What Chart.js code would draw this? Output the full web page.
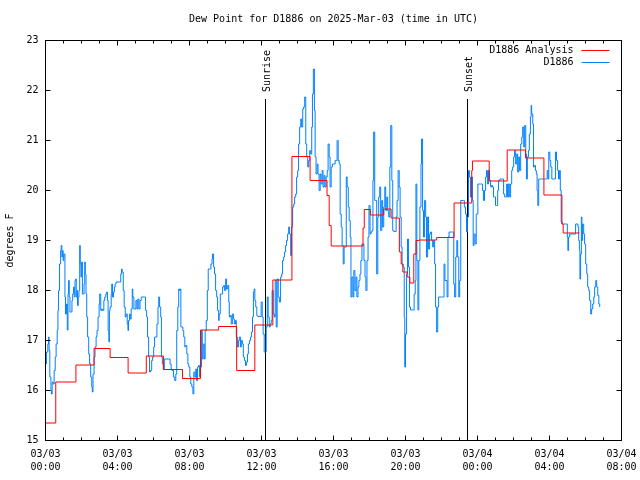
<!DOCTYPE html>
<html>
<head>
<meta charset="utf-8">
<title>Dew Point for D1886</title>
<script src="https://cdn.jsdelivr.net/npm/chart.js@4.4.1/dist/chart.umd.min.js"></script>
<style>
  html, body { margin: 0; padding: 0; background: #fff; }
  canvas { display: block; }
</style>
</head>
<body>
<canvas id="dewChart" width="640" height="480"></canvas>
<script>
//////////////////// Dew point, hours since 03/03 00:00 UTC ////////////////////

///////// D1886 station readings /////////
const stationHours = [
  0.00,0.05,0.13,0.17,0.20,0.24,0.30,0.33,0.37,0.43,
  0.48,0.54,0.59,0.65,0.69,0.72,0.78,0.84,0.87,0.91,
  0.95,0.98,1.02,1.08,1.11,1.17,1.21,1.25,1.28,1.32,
  1.36,1.41,1.47,1.51,1.56,1.60,1.64,1.67,1.71,1.75,
  1.78,1.82,1.86,1.90,1.93,1.97,2.01,2.05,2.10,2.14,
  2.18,2.21,2.25,2.29,2.34,2.40,2.45,2.51,2.57,2.60,
  2.64,2.70,2.75,2.81,2.86,2.92,2.98,3.01,3.07,3.12,
  3.18,3.24,3.29,3.35,3.40,3.44,3.48,3.52,3.55,3.59,
  3.65,3.68,3.72,3.78,3.83,3.87,3.92,4.09,4.18,4.22,
  4.26,4.32,4.37,4.43,4.48,4.54,4.58,4.61,4.67,4.71,
  4.76,4.82,4.85,4.91,4.97,5.02,5.08,5.13,5.19,5.25,
  5.32,5.43,5.51,5.56,5.62,5.67,5.73,5.78,5.84,5.90,
  5.95,6.01,6.06,6.14,6.19,6.25,6.29,6.34,6.40,6.44,
  6.49,6.55,6.60,6.85,
  6.92,6.98,7.03,7.11,7.18,7.24,7.29,7.35,7.40,7.44,
  7.48,7.52,7.57,7.63,7.68,7.74,7.79,7.85,7.91,7.96,
  8.02,8.07,8.13,8.19,8.24,8.30,8.35,8.39,8.45,8.50,
  8.56,8.61,8.67,8.71,8.76,8.82,8.87,8.93,8.99,9.04,
  9.12,9.19,9.25,9.28,9.34,9.39,9.45,9.51,9.56,9.62,
  9.65,9.71,9.78,9.84,9.90,9.95,10.01,10.06,10.12,10.18,
  10.21,10.27,10.32,10.38,10.44,10.49,10.55,10.60,10.66,10.72,
  10.77,10.83,10.88,10.94,10.99,11.05,11.11,11.16,11.22,11.27,
  11.33,11.39,11.44,11.50,11.55,11.59,11.63,11.68,11.74,11.79,
  11.87,11.92,11.98,12.04,12.09,12.15,12.20,12.26,12.32,12.37,
  12.43,12.48,12.54,12.59,12.65,12.71,12.76,12.82,12.87,12.93,
  12.99,
  13.06,13.12,13.17,13.23,13.28,13.34,13.39,13.45,13.51,13.56,
  13.62,13.67,13.73,13.79,13.84,13.90,13.95,14.01,14.06,14.12,
  14.18,14.23,14.29,14.34,14.40,14.46,14.51,14.57,14.62,14.68,
  14.73,14.79,14.83,14.88,14.94,14.98,15.03,15.09,15.14,15.20,
  15.26,15.31,15.37,15.42,15.48,15.53,15.59,15.65,15.70,15.76,
  15.81,15.87,15.94,16.02,16.09,16.15,16.20,16.26,16.32,16.37,
  16.43,16.48,16.54,16.59,16.65,16.71,16.76,16.82,16.87,
  16.93,16.97,17.02,17.08,17.13,17.19,17.25,17.30,17.36,17.41,
  17.47,17.52,17.58,17.64,17.69,17.75,17.80,17.86,17.92,17.97,
  18.03,18.08,18.14,18.19,18.23,18.29,18.34,18.40,18.46,18.51,
  18.57,18.62,18.68,18.73,18.79,18.85,18.90,18.96,19.01,19.07,
  19.13,19.18,19.24,19.29,19.35,19.42,19.48,19.53,19.59,19.65,
  19.70,19.76,19.81,19.87,19.93,19.96,20.00,20.06,20.11,20.17,
  20.22,20.28,20.35,20.43,20.48,20.54,20.58,20.63,20.69,20.74,
  20.80,20.86,20.89,20.95,21.00,21.06,21.12,21.17,21.23,21.28,
  21.34,21.39,21.45,21.51,21.56,21.62,21.67,21.73,21.79,21.84,
  21.92,21.99,22.06,22.14,22.19,22.25,22.31,22.36,22.42,22.47,
  22.55,22.62,22.68,22.73,22.79,22.85,22.90,22.96,23.01,23.07,
  23.14,23.22,23.27,23.33,23.39,23.44,23.50,23.55,23.61,23.66,
  23.72,23.76,23.81,23.87,23.93,23.98,24.02,24.09,24.17,
  24.22,24.28,24.33,24.39,24.45,24.50,24.56,24.61,24.67,24.73,
  24.78,24.84,24.89,24.95,25.00,25.06,25.12,25.17,25.25,25.32,
  25.39,25.45,25.51,25.56,25.62,25.67,25.73,25.79,25.84,25.90,
  25.95,26.01,26.06,26.12,26.18,26.23,26.29,26.34,26.40,26.46,
  26.51,26.57,26.62,26.68,26.72,26.77,26.83,26.88,26.94,26.98,
  27.01,27.07,27.11,27.16,27.22,27.27,27.31,27.35,27.40,27.48,
  27.55,27.63,27.70,27.78,27.83,27.87,27.92,27.96,28.02,28.07,
  28.13,28.20,28.28,28.33,28.39,28.45,28.50,28.56,28.60,28.65,
  28.71,28.78,28.86,28.93,28.99,29.02,29.06,29.12,29.19,29.27,
  29.34,29.41,29.45,29.53,29.58,29.62,29.66,29.69,29.73,29.77,
  29.80,29.84,29.90,29.95,30.01,30.07,30.12,30.18,30.23,30.29,
  30.34,30.40,30.46,30.51,30.57,30.62,30.68,30.74,30.79
];
const stationDew = [
  16.53,16.77,16.93,17.07,16.80,16.27,16.00,15.93,16.17,16.13,
  16.40,16.67,16.93,17.20,17.60,18.00,18.53,18.80,18.90,18.67,
  18.80,18.60,18.73,17.87,17.53,17.73,17.21,17.93,18.20,17.87,
  17.57,17.57,17.80,17.93,18.07,17.87,18.20,18.23,17.87,18.00,
  17.70,17.87,18.00,18.90,18.53,18.27,18.57,17.93,17.93,18.13,
  18.57,18.33,17.93,17.47,17.07,16.73,16.53,16.27,16.07,15.97,
  16.33,16.67,16.87,17.07,17.20,17.47,17.73,17.93,17.60,17.63,
  17.60,17.80,17.87,17.93,17.97,17.80,17.20,16.97,17.60,17.67,
  17.93,18.13,17.87,17.97,18.07,18.13,18.17,18.17,18.33,18.43,
  18.37,18.00,17.67,17.47,17.53,17.33,17.20,17.40,17.53,17.43,
  17.63,18.03,17.87,17.63,17.63,17.80,17.63,17.83,17.63,17.80,
  17.87,17.87,17.87,17.60,17.47,17.07,16.67,16.37,16.40,16.60,
  16.67,16.87,17.07,17.07,17.33,17.67,17.87,17.67,17.47,16.67,
  16.53,16.43,16.63,16.63,
  16.53,16.43,16.40,16.27,16.20,16.33,17.20,17.67,18.03,18.00,
  18.03,17.27,17.27,17.20,17.07,16.87,16.90,16.73,16.53,16.47,
  16.27,16.13,16.07,15.93,16.37,16.27,16.43,16.20,16.47,16.50,
  16.27,16.47,17.20,16.63,16.93,16.63,17.20,17.40,18.00,18.43,
  18.43,18.53,18.63,18.73,18.47,18.33,18.00,17.87,17.60,17.40,
  17.53,17.93,17.93,18.07,18.10,18.00,18.23,18.03,18.10,17.77,
  17.47,17.50,17.33,17.53,17.43,17.33,17.40,17.07,16.87,17.00,
  17.07,16.87,17.00,16.93,16.67,16.60,16.50,16.57,16.73,16.93,
  17.00,17.07,17.17,17.47,17.97,18.03,17.80,17.67,17.50,17.48,
  17.48,17.48,17.77,17.47,17.13,16.77,16.77,17.27,17.87,17.47,
  17.27,17.33,17.40,18.00,17.53,17.47,18.20,17.27,18.23,17.87,
  17.77,
  18.27,18.33,18.60,18.67,18.77,18.90,19.00,19.13,19.27,19.13,
  18.70,19.27,19.67,19.73,19.87,19.93,20.27,20.40,20.93,21.27,
  21.43,21.27,21.63,21.67,21.87,20.93,20.67,20.47,20.60,20.80,
  20.73,21.27,21.93,22.43,21.60,20.67,20.33,20.53,20.33,20.00,
  20.33,20.13,20.40,20.07,20.30,20.07,20.27,20.40,20.93,20.67,
  20.07,20.47,20.53,20.53,20.60,20.60,21.00,20.60,20.53,19.53,
  19.27,18.90,18.53,18.87,18.87,20.27,20.07,19.67,19.40,
  19.07,17.87,18.27,17.87,18.40,18.00,18.27,17.87,18.07,18.20,
  18.33,18.60,18.93,18.93,18.60,18.27,18.00,18.60,19.07,19.70,
  19.13,19.17,19.20,20.20,21.17,19.80,19.80,18.33,19.47,19.87,
  20.07,19.20,19.80,19.27,19.67,20.07,19.60,19.87,19.60,19.47,
  20.47,21.30,20.20,19.20,19.18,19.18,19.47,19.80,20.40,20.07,
  19.47,18.87,18.53,18.47,17.47,16.47,17.13,18.33,19.03,18.47,
  17.67,17.61,17.61,17.61,17.93,18.20,20.13,18.60,17.61,18.60,
  19.67,20.53,21.03,19.60,19.07,19.80,19.47,18.67,19.47,18.83,
  19.13,19.17,19.00,18.87,19.00,18.53,17.67,17.17,17.67,17.87,
  17.87,17.87,17.87,18.53,18.20,18.20,17.87,19.07,19.17,19.17,
  19.17,19.17,18.13,17.87,18.67,19.00,18.67,17.87,18.20,19.80,
  19.80,19.80,19.67,19.53,19.17,19.47,20.40,20.27,19.87,20.27,
  19.80,18.90,19.13,18.93,19.53,19.53,20.13,20.13,20.13,
  20.13,20.00,19.80,20.00,20.27,20.40,20.13,20.40,20.20,20.07,
  20.10,20.07,19.87,19.87,19.70,19.70,20.00,20.20,20.23,20.23,
  20.23,19.93,19.87,19.87,20.13,19.87,20.13,19.87,20.13,20.40,
  20.47,20.67,20.80,20.53,20.73,20.37,20.67,20.40,20.93,21.07,
  21.27,20.87,21.30,20.73,20.23,20.67,20.80,21.13,21.47,21.70,
  21.53,21.33,20.47,20.50,20.40,20.33,20.00,19.70,20.23,20.23,
  20.23,20.23,20.23,20.23,20.23,20.40,20.23,20.77,20.60,20.47,
  20.23,20.23,20.23,20.77,20.60,20.40,20.23,20.40,20.00,19.37,
  19.33,19.33,19.33,19.33,19.07,18.80,19.07,19.13,19.13,19.13,
  19.13,19.13,19.33,19.33,19.27,19.00,18.80,18.23,18.73,19.47,
  19.00,19.33,19.13,18.93,18.53,18.33,18.07,18.00,17.80,17.53,
  17.63,17.73,17.87,18.07,18.20,18.07,17.90,17.73,17.67
];

///////// Hourly analysis (value holds until the next change) /////////
const analysisHours = [
  0.00,0.57,1.69,2.70,3.59,4.59,5.60,6.55,7.61,8.61,
  9.62,10.62,11.63,12.63,13.69,14.70,15.64,15.76,15.87,17.64,
  17.71,18.05,18.79,19.20,19.66,19.76,19.85,20.09,20.24,20.46,
  20.59,20.74,21.73,22.70,23.68,23.72,24.65,25.65,26.67,27.69,
  28.69,28.76,29.67
];
const analysisDew = [
  15.35,16.17,16.51,16.84,16.66,16.35,16.69,16.42,16.24,17.21,
  17.28,16.40,17.31,18.21,20.68,20.20,19.90,19.30,18.89,19.25,
  19.62,19.51,19.63,19.45,18.77,18.53,18.37,18.27,18.15,18.73,
  19.00,19.01,19.06,19.75,20.40,20.59,20.19,20.81,20.65,19.91,
  19.33,19.15,19.15
];

///////// Sun events and tick labels /////////
const sunLabels = ['Sunrise', 'Sunset'];
const sunHours = [12.22, 23.44];
const xTickLabels = [
  ['03/03', '00:00'], ['03/03', '04:00'], ['03/03', '08:00'],
  ['03/03', '12:00'], ['03/03', '16:00'], ['03/03', '20:00'],
  ['03/04', '00:00'], ['03/04', '04:00'], ['03/04', '08:00']
];
const seriesNames = ['D1886 Analysis', 'D1886'];
const seriesColors = ['rgb(255, 0, 0)', 'rgb(0, 128, 255)'];

const MONO = 'DejaVu Sans Mono, Liberation Mono, monospace';
const FONT = '10px ' + MONO;

///////////// gnuplot style frame, ticks, labels and legend ////////////
const gnuplotLook = {
  id: 'gnuplotLook',
  beforeDatasetsDraw(chart) {
    const { ctx, chartArea: { bottom }, scales: { x } } = chart;
    ctx.save();
    ctx.strokeStyle = '#000';
    ctx.fillStyle = '#000';
    ctx.lineWidth = 1;
    ctx.font = FONT;
    sunHours.forEach((h, i) => {
      const px = Math.floor(x.getPixelForValue(h)) + 0.5;
      ctx.beginPath();
      ctx.moveTo(px, 99);
      ctx.lineTo(px, bottom);
      ctx.stroke();
      ctx.save();
      ctx.translate(px + 1.5, 92);
      ctx.rotate(-Math.PI / 2);
      ctx.textAlign = 'left';
      ctx.textBaseline = 'middle';
      ctx.fillText(sunLabels[i], 0, 0);
      ctx.restore();
    });
    ctx.restore();
  },
  afterDatasetsDraw(chart) {
    const { ctx, chartArea: { left, right, top, bottom }, scales: { x, y } } = chart;
    ctx.save();
    ctx.strokeStyle = '#000';
    ctx.lineWidth = 1;

    // border
    ctx.strokeRect(left, top, right - left, bottom - top);

    // hour ticks, pointing inward, bottom and top
    ctx.beginPath();
    for (let h = 0; h <= 32; h++) {
      const px = Math.floor(x.getPixelForValue(h)) + 0.5;
      const len = h % 4 === 0 ? 5 : 3;
      ctx.moveTo(px, bottom); ctx.lineTo(px, bottom - len);
      ctx.moveTo(px, top); ctx.lineTo(px, top + len);
    }
    // value ticks, left and right
    for (let v = 15; v <= 23; v++) {
      const py = Math.floor(y.getPixelForValue(v)) + 0.5;
      ctx.moveTo(left, py); ctx.lineTo(left + 5, py);
      ctx.moveTo(right, py); ctx.lineTo(right - 5, py);
    }
    ctx.stroke();

    // title
    ctx.fillStyle = '#000';
    ctx.font = FONT;
    ctx.textAlign = 'center';
    ctx.textBaseline = 'middle';
    ctx.fillText('Dew Point for D1886 on 2025-Mar-03 (time in UTC)', (left + right) / 2, 19);

    // y axis label
    ctx.save();
    ctx.translate(10, (top + bottom) / 2);
    ctx.rotate(-Math.PI / 2);
    ctx.fillText('degrees F', 0, 0);
    ctx.restore();

    // legend
    seriesNames.forEach((name, i) => {
      const ly = 50.5 + i * 12;
      ctx.fillStyle = '#000';
      ctx.textAlign = 'right';
      ctx.fillText(name, right - 48, ly);
      ctx.strokeStyle = seriesColors[i];
      ctx.beginPath();
      ctx.moveTo(right - 40, ly);
      ctx.lineTo(right - 12, ly);
      ctx.stroke();
    });
    ctx.restore();
  }
};

///////////// chart setup ////////////////
const data = {
  datasets: [{
    label: seriesNames[0],
    data: analysisHours.map((h, i) => ({ x: h, y: analysisDew[i] })),
    borderColor: seriesColors[0],
    borderWidth: 1,
    stepped: true,
    pointRadius: 0
  }, {
    label: seriesNames[1],
    data: stationHours.map((h, i) => ({ x: h, y: stationDew[i] })),
    borderColor: seriesColors[1],
    borderWidth: 1,
    stepped: true,
    pointRadius: 0
  }]
};

const config = {
  type: 'line',
  data: data,
  options: {
    responsive: false,
    animation: false,
    devicePixelRatio: 1,
    events: [],
    layout: {
      padding: { top: 40.5, right: 18.5, left: 0, bottom: 0 }
    },
    plugins: {
      legend: { display: false },
      title: { display: false },
      tooltip: { enabled: false }
    },
    scales: {
      x: {
        type: 'linear',
        min: 0,
        max: 32,
        afterFit: (scale) => {
          scale.height = 39.5;
          scale.paddingLeft = 0;
          scale.paddingRight = 0;
        },
        grid: { display: false, drawTicks: false },
        border: { display: false },
        ticks: {
          stepSize: 4,
          autoSkip: false,
          maxRotation: 0,
          padding: 7,
          color: '#000',
          font: { family: MONO, size: 10, lineHeight: 1.3 },
          callback: (value) => xTickLabels[value / 4]
        }
      },
      y: {
        min: 15,
        max: 23,
        afterFit: (scale) => {
          scale.width = 45.5;
          scale.paddingTop = 0;
          scale.paddingBottom = 0;
        },
        grid: { display: false, drawTicks: false },
        border: { display: false },
        ticks: {
          stepSize: 1,
          padding: 7,
          color: '#000',
          font: { family: MONO, size: 10 }
        }
      }
    }
  },
  plugins: [gnuplotLook]
};

const dewChart = new Chart(document.getElementById('dewChart').getContext('2d'), config);
</script>
</body>
</html>
